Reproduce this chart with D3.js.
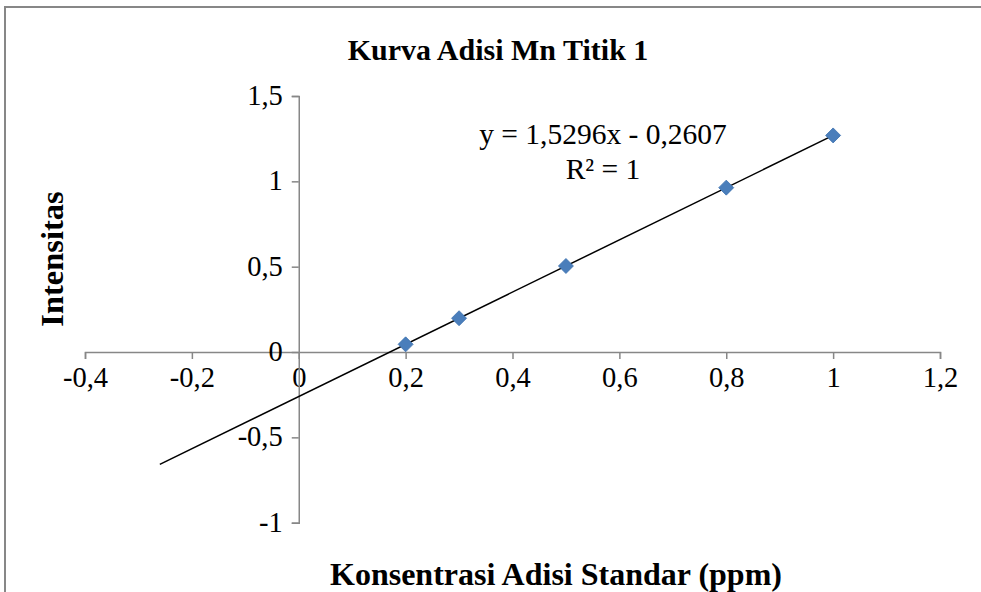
<!DOCTYPE html>
<html>
<head>
<meta charset="utf-8">
<script src="https://cdn.jsdelivr.net/npm/d3@7"></script>
<style>
html,body{margin:0;padding:0;background:#fff;}
svg{display:block;}
svg text{font-family:"Times New Roman",Times,"Liberation Serif","DejaVu Serif",serif;fill:#000;}
</style>
</head>
<body>
<svg id="chart" width="981" height="592"></svg>
<script>
const xValues = [0.2, 0.3, 0.5, 0.8, 1.0];
const yValues = [0.045, 0.198, 0.504, 0.963, 1.269];
const xTicks = [-0.4, -0.2, 0, 0.2, 0.4, 0.6, 0.8, 1, 1.2];
const yTicks = [-1, -0.5, 0, 0.5, 1, 1.5];
const slope = 1.5296, intercept = -0.2607;
const trendRange = [-0.26, 1.0];
const title = "Kurva Adisi Mn Titik 1";
const xTitle = "Konsentrasi Adisi Standar (ppm)";
const yTitle = "Intensitas";
const eqLines = ["y = 1,5296x - 0,2607", "R² = 1"];

const svg = d3.select("#chart");
const fmt = v => String(v).replace(".", ",");

svg.append("rect").attr("x", 5).attr("y", 7).attr("width", 1000).attr("height", 1000)
  .attr("fill", "none").attr("stroke", "#878787").attr("stroke-width", 2);

const x = d3.scaleLinear().domain([-0.4, 1.2]).range([85, 940]);
const y = d3.scaleLinear().domain([-1, 1.5]).range([522.7, 96]);

const axisColor = "#878787";
const gx = svg.append("g").attr("transform", `translate(0,${y(0)})`)
  .call(d3.axisBottom(x).tickValues(xTicks).tickFormat(fmt).tickSizeOuter(0).tickSize(7).tickPadding(8));
const gy = svg.append("g").attr("transform", `translate(${x(0)},0)`)
  .call(d3.axisLeft(y).tickValues(yTicks).tickFormat(fmt).tickSizeOuter(0).tickSize(7).tickPadding(9));
[gx, gy].forEach(g => {
  g.attr("font-family", null);
  g.select(".domain").attr("stroke", axisColor).attr("stroke-width", 1.5);
  g.selectAll(".tick line").attr("stroke", axisColor).attr("stroke-width", 1.5);
  g.selectAll(".tick text").attr("font-size", 28.5).attr("fill", "#000");
});
gy.selectAll(".tick text").attr("dy", "0.3em");

svg.append("line")
  .attr("x1", x(trendRange[0])).attr("y1", y(slope * trendRange[0] + intercept))
  .attr("x2", x(trendRange[1])).attr("y2", y(slope * trendRange[1] + intercept))
  .attr("stroke", "#000").attr("stroke-width", 1.5);

const sym = d3.symbol().type(d3.symbolSquare).size(112);
svg.selectAll("path.pt").data(xValues).join("path").attr("class", "pt")
  .attr("d", sym)
  .attr("transform", (d, i) => `translate(${x(d)},${y(yValues[i])}) rotate(45)`)
  .attr("fill", "#4A7EBB").attr("stroke", "#3f73b0").attr("stroke-width", 0.8);

svg.append("text").attr("x", 498).attr("y", 60).attr("text-anchor", "middle")
  .attr("font-weight", "bold").attr("font-size", 30).text(title);
svg.append("text").attr("x", 556).attr("y", 585).attr("text-anchor", "middle")
  .attr("font-weight", "bold").attr("font-size", 32).text(xTitle);
svg.append("text").attr("transform", "translate(63,259) rotate(-90)").attr("text-anchor", "middle")
  .attr("font-weight", "bold").attr("font-size", 32.5).text(yTitle);

svg.selectAll("text.eq").data(eqLines).join("text").attr("class", "eq")
  .attr("x", 603).attr("y", (d, i) => 144 + i * 35).attr("text-anchor", "middle")
  .attr("font-size", 29.5).text(d => d);
</script>
</body>
</html>
